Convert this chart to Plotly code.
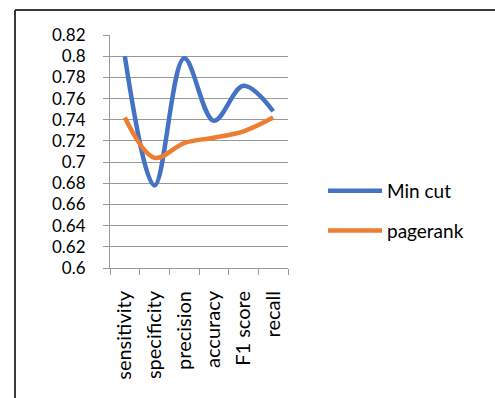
import plotly.graph_objects as go

# Evaluation metrics for the two ranking methods
metrics = ["sensitivity", "specificity", "precision", "accuracy", "F1 score", "recall"]
min_cut = [0.800, 0.678, 0.798, 0.739, 0.772, 0.748]
pagerank = [0.742, 0.704, 0.718, 0.723, 0.729, 0.742]
y_ticks = [0.6, 0.62, 0.64, 0.66, 0.68, 0.7, 0.72, 0.74, 0.76, 0.78, 0.8, 0.82]
y_tick_text = ["0.6", "0.62", "0.64", "0.66", "0.68", "0.7", "0.72", "0.74", "0.76", "0.78", "0.8", "0.82"]

FONT = "Lato"
W, H = 495, 398
L, R, T, B = 110, 207, 35, 130

fig = go.Figure()
fig.add_trace(go.Scatter(
    x=metrics, y=min_cut, name="Min cut", mode="lines", legendgroup="a",
    line=dict(color="#4472C4", width=4.5, shape="spline", smoothing=1.0),
))
fig.add_trace(go.Scatter(
    x=metrics, y=pagerank, name="pagerank", mode="lines", legendgroup="b",
    line=dict(color="#ED7D31", width=4.5, shape="spline", smoothing=1.0),
))

pw, ph = W - L - R, H - T - B
def px_x(p):
    return (p - L) / pw
def px_y(p):
    return (H - B - p) / ph

# frame lines along the top and left edges
fig.add_shape(type="line", xref="paper", yref="paper",
              x0=px_x(15), x1=px_x(W + 5), y0=px_y(10), y1=px_y(10),
              line=dict(color="#3a3a3a", width=2))
fig.add_shape(type="line", xref="paper", yref="paper",
              x0=px_x(15), x1=px_x(15), y0=px_y(10), y1=px_y(H + 5),
              line=dict(color="#3a3a3a", width=2))

fig.update_layout(
    width=W, height=H,
    margin=dict(l=L, r=R, t=T, b=B),
    paper_bgcolor="white", plot_bgcolor="white",
    font=dict(family=FONT, color="#000000"),
    showlegend=True,
    legend=dict(
        x=px_x(323), y=px_y(172), xanchor="left", yanchor="top",
        font=dict(family=FONT, size=19, color="#000000"),
        tracegroupgap=12, itemwidth=54, bgcolor="rgba(0,0,0,0)",
    ),
    xaxis=dict(
        type="category", categoryorder="array", categoryarray=metrics,
        range=[-0.5, 5.5], tickson="boundaries",
        ticks="outside", ticklen=6, tickcolor="#999999", tickwidth=1,
        showline=True, linecolor="#999999", linewidth=1,
        showgrid=False, tickangle=-90, ticklabelstandoff=14,
        tickfont=dict(family=FONT, size=20, color="#000000"),
    ),
    yaxis=dict(
        range=[0.6, 0.82], tickvals=y_ticks, ticktext=y_tick_text,
        ticks="outside", ticklen=6, tickcolor="#999999", tickwidth=1,
        showline=True, linecolor="#999999", linewidth=1,
        showgrid=True, gridcolor="#999999", gridwidth=1,
        zeroline=False, ticklabelstandoff=14,
        tickfont=dict(family=FONT, size=17, color="#000000"),
    ),
)

fig.write_html("out.html")
